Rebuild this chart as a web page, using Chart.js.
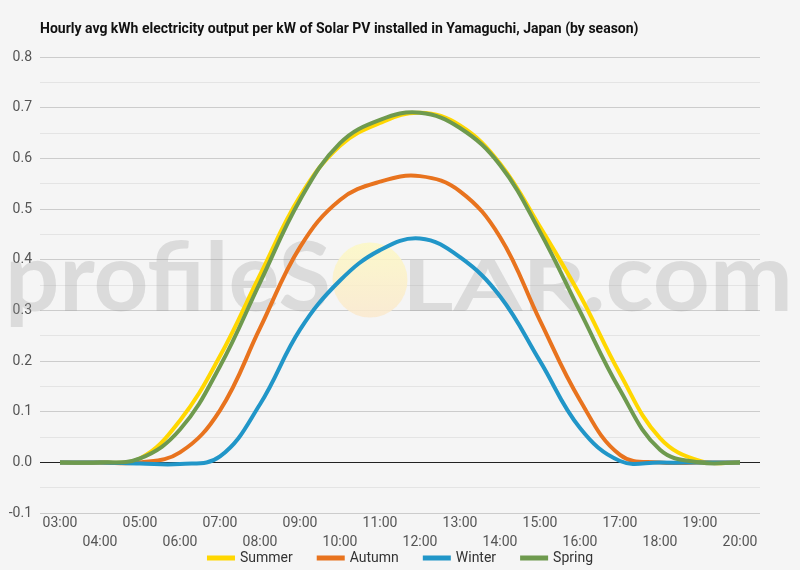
<!DOCTYPE html>
<html>
<head>
<meta charset="utf-8">
<script src="https://cdn.jsdelivr.net/npm/chart.js@4.4.1/dist/chart.umd.min.js"></script>
<style>
  html, body { margin: 0; padding: 0; background: #f5f5f5; }
  #wrap { width: 800px; height: 570px; }
</style>
</head>
<body>
<div id="wrap"><canvas id="solarChart" width="800" height="570"></canvas></div>
<script>
// data
var hours = ['03:00', '04:00', '05:00', '06:00', '07:00', '08:00', '09:00', '10:00', '11:00',
  '12:00', '13:00', '14:00', '15:00', '16:00', '17:00', '18:00', '19:00', '20:00'];
var summer = [0, 0, 0.008, 0.083, 0.21, 0.37, 0.525, 0.625, 0.67, 0.69, 0.665, 0.59, 0.465, 0.33, 0.175, 0.048, 0.003, 0];
var autumn = [0, 0, 0, 0.02, 0.103, 0.265, 0.425, 0.518, 0.554, 0.565, 0.535, 0.445, 0.28, 0.123, 0.015, 0, 0, 0];
var winter = [0, 0, -0.002, -0.003, 0.012, 0.115, 0.262, 0.359, 0.419, 0.442, 0.405, 0.328, 0.2, 0.068, 0.003, 0, 0, 0];
var spring = [0, 0, 0.008, 0.065, 0.19, 0.355, 0.518, 0.63, 0.676, 0.69, 0.66, 0.587, 0.455, 0.298, 0.143, 0.025, 0, 0];
var yTicks = [-0.1, 0, 0.1, 0.2, 0.3, 0.4, 0.5, 0.6, 0.7, 0.8];

var titleText = 'Hourly avg kWh electricity output per kW of Solar PV installed in Yamaguchi, Japan (by season)';

// title drawn from the chart area's left edge
var titlePlugin = {
  id: 'titleLeft',
  afterDraw: function (chart) {
    var ctx = chart.ctx;
    ctx.save();
    ctx.font = 'bold 14px Roboto';
    ctx.fillStyle = '#111';
    ctx.textBaseline = 'alphabetic';
    ctx.fillText(titleText, chart.chartArea.left, 33);
    ctx.restore();
  }
};

// legend under the axis labels, built from the datasets
var legendPlugin = {
  id: 'bottomLegend',
  afterDraw: function (chart) {
    var ctx = chart.ctx;
    var sets = chart.data.datasets;
    ctx.save();
    ctx.font = '14px Roboto';
    ctx.textBaseline = 'middle';
    var total = 0, widths = [];
    sets.forEach(function (ds) {
      var w = 28 + 5 + ctx.measureText(ds.label).width;
      widths.push(w);
      total += w;
    });
    total += 24 * (sets.length - 1);
    var x = 400 - total / 2, y = 558;
    sets.forEach(function (ds, i) {
      ctx.fillStyle = ds.borderColor;
      ctx.fillRect(x, y - 2.5, 28, 5);
      ctx.fillStyle = '#333';
      ctx.fillText(ds.label, x + 33, y);
      x += widths[i] + 24;
    });
    ctx.restore();
  }
};

// profileSOLAR.com watermark
function fitText(ctx, text, x, w, baseline) {
  var m = ctx.measureText(text).width;
  ctx.save();
  ctx.translate(x, baseline);
  ctx.scale(w / m, 1);
  ctx.fillText(text, 0, 0);
  ctx.restore();
}
var watermarkPlugin = {
  id: 'watermark',
  beforeDatasetsDraw: function (chart) {
    var ctx = chart.ctx;
    ctx.save();
    ctx.fillStyle = 'rgba(150,150,150,0.27)';
    ctx.font = 'bold 96px Lato';
    fitText(ctx, 'profileS', 5, 326, 311);
    ctx.font = 'bold 70px Lato';
    fitText(ctx, 'LAR', 402, 184, 311);
    ctx.font = 'bold 96px Lato';
    fitText(ctx, '.com', 582, 211, 311);
    var g = ctx.createLinearGradient(0, 242, 0, 318);
    g.addColorStop(0, 'rgba(252,248,195,0.85)');
    g.addColorStop(1, 'rgba(250,232,205,0.85)');
    ctx.fillStyle = g;
    ctx.beginPath();
    ctx.arc(370, 280, 37.5, 0, Math.PI * 2);
    ctx.fill();
    ctx.restore();
  }
};

var ctx = document.getElementById('solarChart').getContext('2d');
var solarChart = new Chart(ctx, {
  type: 'line',
  data: {
    labels: hours,
    datasets: [
      { label: 'Summer', data: summer, borderColor: '#FFD700', backgroundColor: '#FFD700', order: 4 },
      { label: 'Autumn', data: autumn, borderColor: '#E8731E', backgroundColor: '#E8731E', order: 3 },
      { label: 'Winter', data: winter, borderColor: '#2196C8', backgroundColor: '#2196C8', order: 2 },
      { label: 'Spring', data: spring, borderColor: '#6E9A4E', backgroundColor: '#6E9A4E', order: 1 }
    ]
  },
  options: {
    responsive: false,
    animation: false,
    devicePixelRatio: 1,
    elements: {
      line: { borderWidth: 4, tension: 0.4, fill: false },
      point: { radius: 0, hoverRadius: 0 }
    },
    layout: { padding: { top: 57, right: 40, left: 0, bottom: 17 } },
    plugins: {
      title: { display: false },
      tooltip: { enabled: false },
      legend: { display: false }
    },
    scales: {
      x: {
        offset: true,
        grid: { display: false, drawTicks: false },
        border: { display: false },
        ticks: {
          autoSkip: false,
          maxRotation: 0,
          padding: 1,
          color: '#555',
          font: { family: 'Roboto', size: 14, lineHeight: 1.35 },
          callback: function (v, i) {
            return i % 2 === 0 ? [hours[i]] : ['', hours[i]];
          }
        }
      },
      y: {
        min: yTicks[0],
        max: yTicks[yTicks.length - 1],
        afterFit: function (scale) { scale.width = 40; },
        afterBuildTicks: function (scale) {
          var t = [];
          for (var i = 0; i < yTicks.length; i++) {
            t.push({ value: yTicks[i] });
            if (i < yTicks.length - 1) t.push({ value: (yTicks[i] + yTicks[i + 1]) / 2 });
          }
          scale.ticks = t;
        },
        border: { display: false },
        grid: {
          drawTicks: false,
          lineWidth: 1,
          color: function (c) {
            var v = c.tick.value;
            if (Math.abs(v) < 1e-9) return '#222';
            return Math.abs(Math.round(v * 10) - v * 10) < 1e-6 ? '#cccccc' : '#e4e4e4';
          }
        },
        ticks: {
          padding: 8,
          color: '#555',
          font: { family: 'Roboto', size: 14 },
          callback: function (v) {
            return Math.abs(Math.round(v * 10) - v * 10) < 1e-6 ? v.toFixed(1) : '';
          }
        }
      }
    }
  },
  plugins: [watermarkPlugin, titlePlugin, legendPlugin]
});
</script>
</body>
</html>
